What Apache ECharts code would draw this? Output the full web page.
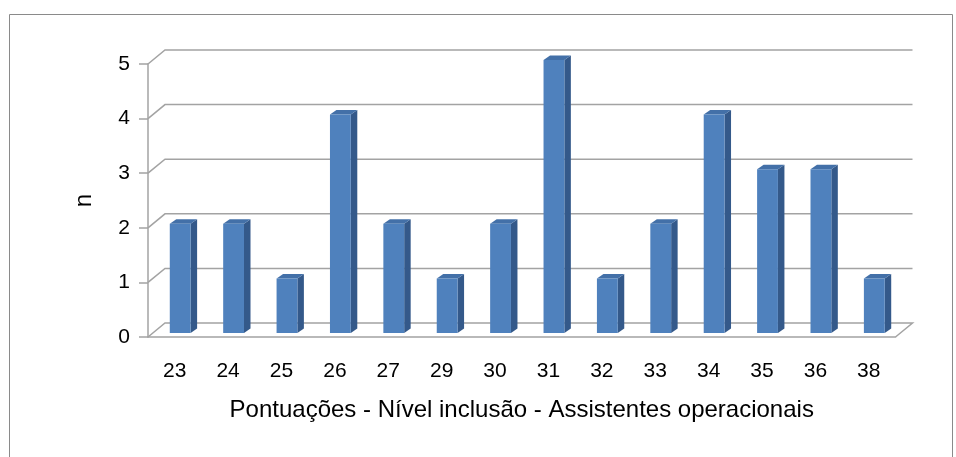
<!DOCTYPE html>
<html><head><meta charset="utf-8">
<script src="https://cdn.jsdelivr.net/npm/echarts@6/dist/echarts.min.js"></script>
<style>html,body{margin:0;padding:0;background:#fff}#c{width:956px;height:457px}</style>
</head><body><div id="c"></div>
<script>
const categories = ['23','24','25','26','27','29','30','31','32','33','34','35','36','38'];
const counts = [2,2,1,4,2,1,2,5,1,2,4,3,3,1];
const yTicks = [0,1,2,3,4,5];
const xTitle = 'Pontuações - Nível inclusão - Assistentes operacionais';
const yTitle = 'n';

const WALL = [17, -14];      // back wall depth offset (px)
const BAR_F = [5.5, -4];     // bar front plane offset
const BAR_D = [6.5, -4.5];   // bar depth
const BAR_W = 0.39;          // bar width fraction of band
const gridColor = '#a3a3a3';
const FONT = 'Liberation Sans';

const chart = echarts.init(document.getElementById('c'));
chart.setOption({
  animation: false,
  backgroundColor: '#fff',
  graphic: [{
    type: 'rect', silent: true,
    shape: {x: 9.5, y: 14.5, width: 943, height: 470},
    style: {fill: 'none', stroke: '#8a8a8a', lineWidth: 1}
  }],
  grid: {left: 148, right: 60.5, top: 64, bottom: 120},
  xAxis: {
    type: 'category', data: categories,
    axisLine: {lineStyle: {color: gridColor, width: 1.5}},
    axisTick: {length: 7, lineStyle: {color: gridColor, width: 1.5}},
    axisLabel: {color: '#000', fontSize: 21, fontFamily: FONT, margin: 24},
    name: xTitle, nameLocation: 'middle', nameGap: 61,
    nameTextStyle: {color: '#000', fontSize: 24, fontFamily: FONT},
    splitLine: {show: false}
  },
  yAxis: {
    type: 'value', min: 0, max: 5, interval: 1,
    axisLine: {show: true, lineStyle: {color: gridColor, width: 1.5}},
    axisTick: {show: true, length: 9, lineStyle: {color: gridColor, width: 1.5}},
    axisLabel: {color: '#000', fontSize: 21, fontFamily: FONT, margin: 18},
    splitLine: {show: false},
    name: yTitle, nameLocation: 'middle', nameGap: 52, nameRotate: 90,
    nameTextStyle: {color: '#000', fontSize: 24, fontFamily: FONT}
  },
  series: [{
    type: 'custom', clip: false, silent: true, z: 1,
    data: yTicks.map(v => [0, v]),
    encode: {x: 0, y: 1},
    renderItem: function (params, api) {
      const cs = params.coordSys;
      const v = api.value(1);
      const y = api.coord([0, v])[1];
      const l = cs.x, r = cs.x + cs.width;
      const pts = [[l, y], [l + WALL[0], y + WALL[1]], [r + WALL[0], y + WALL[1]]];
      if (v === 0) pts.push([r, y]);
      return {type: 'polyline', shape: {points: pts},
        style: {stroke: gridColor, lineWidth: 1.5, fill: null}};
    }
  }, {
    type: 'custom', clip: false, silent: true, z: 3,
    data: counts.map((v, i) => [i, v]),
    encode: {x: 0, y: 1},
    renderItem: function (params, api) {
      const i = api.value(0), v = api.value(1);
      const base = api.coord([i, 0]), top = api.coord([i, v]);
      const bw = api.size([1, 0])[0] * BAR_W;
      const x0 = base[0] - bw / 2 + BAR_F[0], x1 = x0 + bw;
      const yb = base[1] + BAR_F[1], yt = top[1] + BAR_F[1];
      const dx = BAR_D[0], dy = BAR_D[1];
      return {type: 'group', children: [
        {type: 'polygon', shape: {points: [[x1, yb], [x1, yt], [x1 + dx, yt + dy], [x1 + dx, yb + dy]]},
          style: {fill: '#34598a'}},
        {type: 'polygon', shape: {points: [[x0, yt], [x1, yt], [x1 + dx, yt + dy], [x0 + dx, yt + dy]]},
          style: {fill: '#4370a8'}},
        {type: 'rect', shape: {x: x0, y: yt, width: bw, height: yb - yt},
          style: {fill: '#4f81bd'}}
      ]};
    }
  }]
});
</script></body></html>
